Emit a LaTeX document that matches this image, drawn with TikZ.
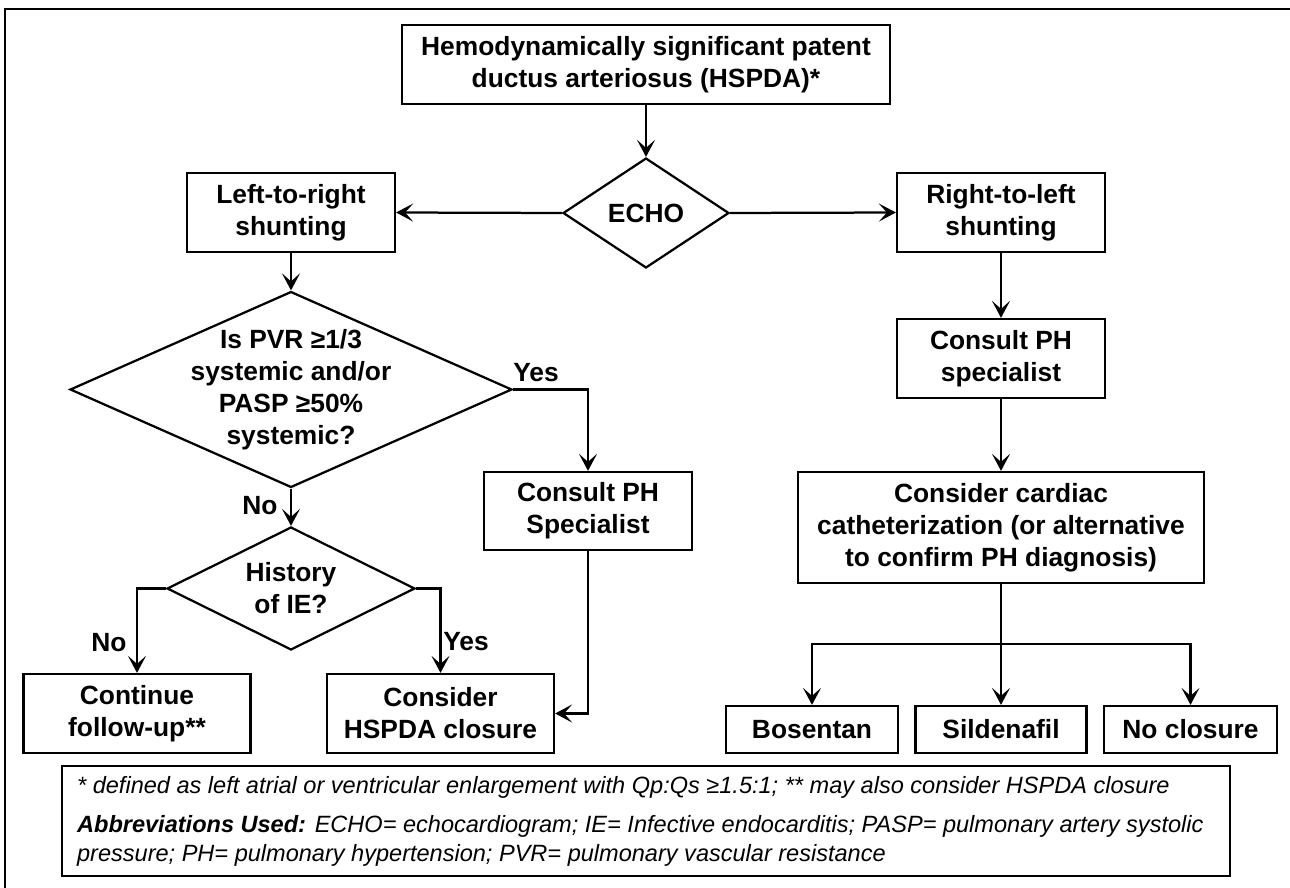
\documentclass[tikz,border=0pt]{standalone}
\usepackage{fontspec}
\setmainfont{Liberation Sans}
\usetikzlibrary{shapes.geometric,arrows.meta}

\begin{document}
\begin{tikzpicture}[x=0.02cm, y=-0.02cm, line width=0.045cm,
                every node/.style={font=\fontsize{15}{18.2}\selectfont\bfseries, align=center},
                block/.style={draw, rectangle, minimum width=4.16cm, minimum height=1.58cm, inner sep=0pt},
                decision/.style={draw, diamond, inner sep=0pt},
                answer/.style={inner sep=0pt},
                arr/.style={-{Stealth[length=0.34cm, width=0.36cm, inset=0.16cm]}}]
                \useasboundingbox (0,0) rectangle (1290,888);
                \draw (5,888) |- (1290,9);
                \node[block, minimum width=9.76cm] (hspda) at (646,64.5) {Hemodynamically significant patent\\ductus arteriosus (HSPDA)*};
                \node[decision, minimum width=3.32cm, minimum height=2.2cm] (echo) at (646,213) {};
                \node (echotxt) at (echo) {ECHO};
                \node[block] (ltr) at (291,212.5) {Left-to-right\\shunting};
                \node[block] (rtl) at (1001,212.5) {Right-to-left\\shunting};
                \node[decision, minimum width=8.84cm, minimum height=3.92cm] (pvr) at (291,389.5) {};
                \node (pvrtxt) at (pvr) {Is PVR ≥1/3\\systemic and/or\\PASP ≥50\%\\systemic?};
                \node[block, minimum height=1.56cm] (phleft) at (588,511) {Consult PH\\Specialist};
                \node[decision, minimum width=4.96cm, minimum height=2.46cm] (hist) at (291,588.5) {};
                \node (histtxt) at (hist) {History\\of IE?};
                \node[block, minimum width=4.54cm] (followup) at (137,713.5) {Continue\\follow-up**};
                \node[block, minimum width=4.54cm] (closure) at (440.5,713.5) {Consider\\HSPDA closure};
                \node[block] (phright) at (1001,358.5) {Consult PH\\specialist};
                \node[block, minimum width=8.12cm, minimum height=2.22cm] (cath) at (1001,527.5) {Consider cardiac\\catheterization (or alternative\\to confirm PH diagnosis)};
                \node[block, minimum width=3.44cm, minimum height=0.94cm] (bosentan) at (812,729.5) {Bosentan};
                \node[block, minimum width=3.42cm, minimum height=0.94cm] (sildenafil) at (1001,729.5) {Sildenafil};
                \node[block, minimum width=3.46cm, minimum height=0.94cm] (noclosure) at (1190.5,729.5) {No closure};
                \node[answer] (yes1) at (536,373) {Yes};
                \node[answer] (no1) at (260,506) {No};
                \node[answer] (no2) at (109,643) {No};
                \node[answer] (yes2) at (466,642) {Yes};
                \node[draw, minimum width=23.36cm, minimum height=2.2cm] (notes) at (646,821) {};
                \node[anchor=west, align=left, inner sep=0pt, font=\fontsize{13.4}{16.5}\selectfont\itshape] (notestxt) at (76,821)
                    {* defined as left atrial or ventricular enlargement with Qp:Qs ≥1.5:1; ** may also consider HSPDA closure\\[5.7pt]
                     \textbf{Abbreviations Used:} ECHO= echocardiogram; IE= Infective endocarditis; PASP= pulmonary artery systolic\\
                     pressure; PH= pulmonary hypertension; PVR= pulmonary vascular resistance};
                \draw[arr] (hspda.south) -- (echo.north);
                \draw[arr] (echo.west) -- (ltr.east);
                \draw[arr] (echo.east) -- (rtl.west);
                \draw[arr] (ltr.south) -- (pvr.north);
                \draw[arr] (pvr.east) -| (phleft.north);
                \draw[arr] (pvr.south) -- (hist.north);
                \draw[arr] (hist.west) -| (followup.north);
                \draw[arr] (hist.east) -| (closure.north);
                \draw[arr] (phleft.south) |- (closure.east);
                \draw[arr] (rtl.south) -- (phright.north);
                \draw[arr] (phright.south) -- (cath.north);
                \coordinate (split) at (1001,644);
                \draw (cath.south) -- (split);
                \draw[arr] (split) -- (sildenafil.north);
                \draw[arr] (split) -| (bosentan.north);
                \draw[arr] (split) -| (noclosure.north);
            \end{tikzpicture}
\end{document}
